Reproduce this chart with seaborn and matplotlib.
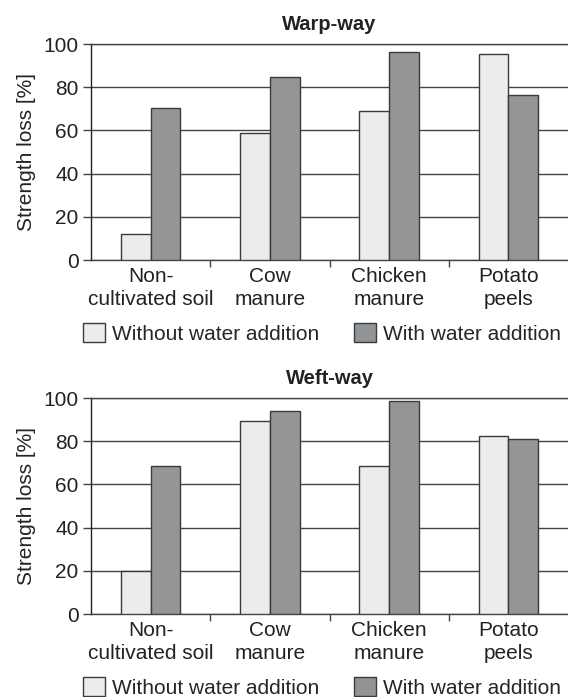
import matplotlib
matplotlib.use("Agg")
import matplotlib.pyplot as plt
import seaborn as sns
import pandas as pd
from matplotlib.patches import Patch

categories = ["Non-\ncultivated soil", "Cow\nmanure", "Chicken\nmanure", "Potato\npeels"]
series_names = ["Without water addition", "With water addition"]
warp_without = [12.1, 58.7, 68.9, 95.4]
warp_with = [70.3, 84.7, 96.2, 76.3]
weft_without = [19.7, 89.3, 68.5, 82.2]
weft_with = [68.5, 93.8, 98.4, 81.2]
yticks = [0, 20, 40, 60, 80, 100]

sns.set_theme(style="white")
plt.rcParams['font.family'] = ['Liberation Sans', 'DejaVu Sans']

colors = ["#ebedec", "#929598"]
edge = "#3a3a3a"
FS = 15

fig = plt.figure(figsize=(5.68, 6.97), dpi=100)
ax1 = fig.add_axes([91/568, 1-260/697, 477/568, 216/697])
ax2 = fig.add_axes([91/568, 1-614/697, 477/568, 216/697])

def make_df(without, with_):
    rows = []
    for c, v in zip(categories, without):
        rows.append({"cat": c, "series": series_names[0], "val": v})
    for c, v in zip(categories, with_):
        rows.append({"cat": c, "series": series_names[1], "val": v})
    return pd.DataFrame(rows)

for ax, title, wo, wi in [(ax1, "Warp-way", warp_without, warp_with),
                          (ax2, "Weft-way", weft_without, weft_with)]:
    df = make_df(wo, wi)
    sns.barplot(data=df, x="cat", y="val", hue="series", order=categories,
                hue_order=series_names, palette=colors, width=0.5,
                edgecolor=edge, linewidth=1.0, ax=ax, legend=False, zorder=3)
    ax.set_xlim(-0.5, 3.5)
    ax.set_ylim(0, 100)
    ax.set_yticks(yticks)
    ax.set_yticklabels([str(t) for t in yticks], fontsize=FS, color="#222222")
    ax.yaxis.grid(True, color="#444444", linewidth=1.0, zorder=0)
    ax.set_axisbelow(True)
    ax.tick_params(axis="y", which="major", length=6, width=1, color="#444444",
                   direction="out", pad=3, left=True)
    ax.set_xticks(range(len(categories)))
    ax.set_xticklabels(categories, fontsize=FS, color="#222222", linespacing=1.25)
    ax.set_xticks([0.5, 1.5, 2.5], minor=True)
    ax.tick_params(axis="x", which="major", length=0, pad=5)
    ax.tick_params(axis="x", which="minor", length=5, width=1, color="#444444",
                   direction="out", bottom=True)
    for s in ["left", "bottom", "top"]:
        ax.spines[s].set_visible(True)
        ax.spines[s].set_color("#444444")
        ax.spines[s].set_linewidth(1.0)
    ax.spines["left"].set_color("#222222")
    ax.spines["right"].set_visible(False)
    ax.set_xlabel("")
    ax.set_ylabel("Strength loss [%]", fontsize=FS, color="#222222", labelpad=5)
    ax.set_title(title, fontsize=14.5, fontweight="bold", color="#222222", pad=10)
    handles = [Patch(facecolor=colors[i], edgecolor=edge, linewidth=1.0, label=series_names[i])
               for i in range(2)]
    ax.legend(handles=handles, ncol=2, loc="upper center", bbox_to_anchor=(0.484, -0.252),
              frameon=False, fontsize=FS, handlelength=1.05, handleheight=1.05,
              handletextpad=0.32, columnspacing=1.7, borderaxespad=0, borderpad=0.4)

fig.savefig("out.png", dpi=100)
